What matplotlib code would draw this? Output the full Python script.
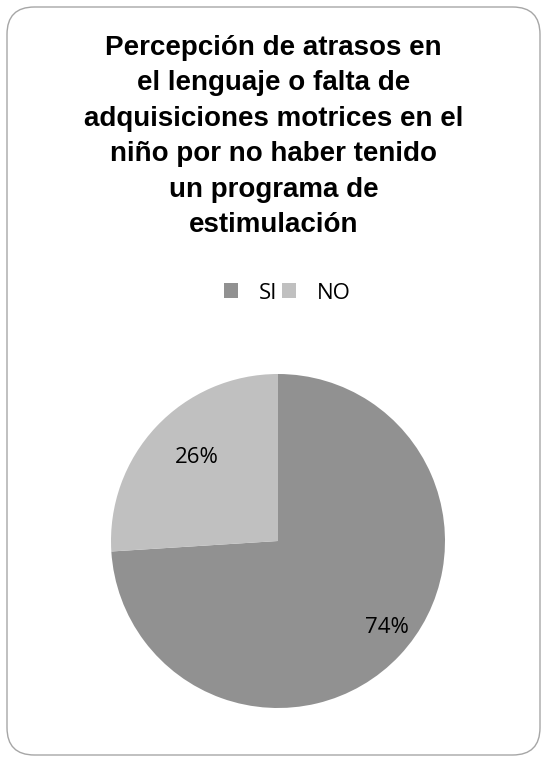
import matplotlib
matplotlib.use("Agg")
import matplotlib.pyplot as plt
from matplotlib.patches import FancyBboxPatch, Patch

labels = ["SI", "NO"]
values = [74, 26]
colors = ["#919191", "#c0c0c0"]
title = ("Percepción de atrasos en\nel lenguaje o falta de\nadquisiciones motrices en el\n"
         "niño por no haber tenido\nun programa de\nestimulación")

W, H = 547, 762
fig = plt.figure(figsize=(W / 100, H / 100), dpi=100)
fig.patch.set_facecolor("white")

# rounded chart border
border = FancyBboxPatch((7 / W, 7 / H), (W - 14) / W, (H - 14) / H,
                        boxstyle="round,pad=0,rounding_size=0.05",
                        transform=fig.transFigure, facecolor="none",
                        edgecolor="#a6a6a6", linewidth=1.0,
                        mutation_aspect=W / H, zorder=-1)
fig.patches.append(border)

fig.text(0.5, 1 - 35 / H, title, ha="center", va="top", fontsize=20,
         fontweight="bold", family="Liberation Sans", linespacing=1.47)

# pie axes: center ~ (278, 541), radius ~ 167 px
r = 167
cx, cy = 278, 541
ax = fig.add_axes([(cx - r) / W, 1 - (cy + r) / H, 2 * r / W, 2 * r / H])
wedges, _ = ax.pie(values, colors=colors, startangle=90, counterclock=False,
                   wedgeprops=dict(linewidth=0))
ax.set_aspect("equal")
ax.set_xlim(-1, 1)
ax.set_ylim(-1, 1)

# percentage labels
ax.text(0.65, -0.52, f"{values[0]}%", ha="center", va="center",
        fontsize=16, family="Open Sans")
ax.text(-0.485, 0.5, f"{values[1]}%", ha="center", va="center",
        fontsize=16, family="Open Sans")

handles = [Patch(facecolor=c, edgecolor="none") for c in colors]
fig.legend(handles, labels, loc="center", bbox_to_anchor=(287.5 / W, 1 - 293 / H),
           ncol=2, frameon=False, prop={"family": "Open Sans", "size": 16},
           handlelength=0.63, handleheight=0.63, handletextpad=0.95,
           columnspacing=0.18)

fig.savefig("out.png", dpi=100)
